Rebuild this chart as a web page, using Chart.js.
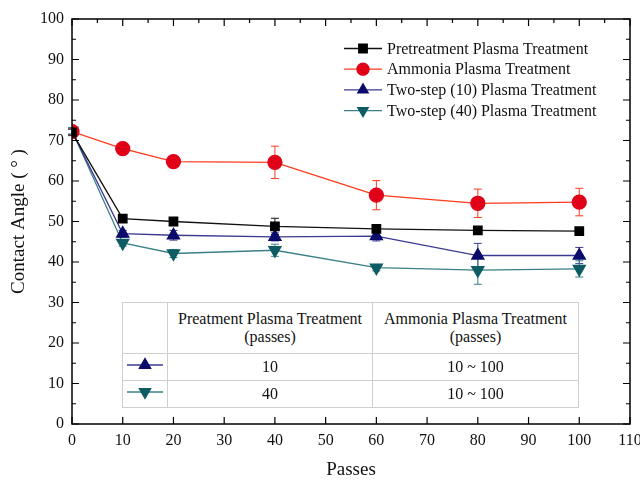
<!DOCTYPE html>
<html lang="en">
<head>
<meta charset="UTF-8">
<script src="https://cdn.jsdelivr.net/npm/chart.js"></script>
<title>Contact Angle vs Passes</title>
<style>
  html, body { margin: 0; padding: 0; background: #fff; }
  #wrap { position: relative; width: 640px; height: 481px; }
  #legendTable {
    position: absolute; left: 122px; top: 302px; border-collapse: collapse;
    font-family: "Liberation Serif", serif; font-size: 16px; color: #111;
    background: #fff;
  }
  #legendTable td { border: 1px solid #cfcfcf; text-align: center; padding: 0; line-height: 18px; }
</style>
</head>
<body>
<div id="wrap">
  <canvas id="angleChart" width="640" height="481"></canvas>
  <table id="legendTable">
    <tr style="height:51px"><td style="width:44px"></td><td style="width:204px">Preatment Plasma Treatment<br>(passes)</td><td style="width:205px">Ammonia Plasma Treatment<br>(passes)</td></tr>
    <tr style="height:27px"><td><canvas id="mk1" width="40" height="16"></canvas></td><td>10</td><td>10 ~ 100</td></tr>
    <tr style="height:27px"><td><canvas id="mk2" width="40" height="16"></canvas></td><td>40</td><td>10 ~ 100</td></tr>
  </table>
</div>
<script>
// data
const passes = [0, 10, 20, 40, 60, 80, 100];
const pretreatment = [72.0, 50.7, 50.0, 48.8, 48.2, 47.8, 47.6];
const ammonia = [72.2, 68.0, 64.8, 64.6, 56.5, 54.5, 54.8];
const twoStep10 = [72.3, 47.0, 46.6, 46.2, 46.4, 41.6, 41.6];
const twoStep40 = [72.4, 44.7, 42.1, 42.9, 38.6, 38.0, 38.3];
const errPre = [0.8, 0.6, 0.6, 2.0, 0.8, 0.4, 0.4];
const errAmm = [0.8, 1.2, 0.8, 4.0, 3.6, 3.5, 3.4];
const errTwo10 = [0.8, 0.8, 1.2, 1.0, 1.2, 3.0, 2.0];
const errTwo40 = [0.8, 0.8, 1.0, 1.5, 0.8, 3.5, 2.0];
const seriesNames = ['Pretreatment Plasma Treatment', 'Ammonia Plasma Treatment',
                     'Two-step (10) Plasma Treatment', 'Two-step (40) Plasma Treatment'];

const serif = '"Liberation Serif", serif';

function mkSet(label, ys, errs, line, fill, style, radius, rot) {
  return {
    label: label,
    data: passes.map((x, i) => ({ x: x, y: ys[i] })),
    errors: errs,
    borderColor: line,
    backgroundColor: fill,
    pointBackgroundColor: fill,
    pointBorderColor: fill,
    pointStyle: style,
    pointRadius: radius,
    pointRotation: rot,
    borderWidth: 1.3,
    tension: 0
  };
}

const datasets = [
  mkSet(seriesNames[0], pretreatment, errPre, '#111111', '#000000', 'rect', 6, 0),
  mkSet(seriesNames[1], ammonia, errAmm, '#ff3a1c', '#e00018', 'circle', 7, 0),
  mkSet(seriesNames[2], twoStep10, errTwo10, '#3a3a90', '#0b0b6b', 'triangle', 7, 0),
  mkSet(seriesNames[3], twoStep40, errTwo40, '#3a8088', '#0d5c64', 'triangle', 7, 180)
];

// error bars, drawn through the scales
const errorBars = {
  id: 'errorBars',
  beforeDatasetsDraw(chart) {
    const { ctx, scales: { x, y } } = chart;
    chart.data.datasets.forEach(ds => {
      ctx.save();
      ctx.strokeStyle = ds.borderColor;
      ctx.lineWidth = 1;
      ds.data.forEach((p, i) => {
        const e = ds.errors[i];
        const px = x.getPixelForValue(p.x);
        const top = y.getPixelForValue(p.y + e);
        const bot = y.getPixelForValue(p.y - e);
        ctx.beginPath();
        ctx.moveTo(px, top); ctx.lineTo(px, bot);
        ctx.moveTo(px - 4, top); ctx.lineTo(px + 4, top);
        ctx.moveTo(px - 4, bot); ctx.lineTo(px + 4, bot);
        ctx.stroke();
      });
      ctx.restore();
    });
  }
};

// box frame with inward ticks on all four sides, plus the legend
const frame = {
  id: 'frame',
  afterDraw(chart) {
    const { ctx, chartArea: a, scales: { x, y } } = chart;
    ctx.save();
    ctx.strokeStyle = '#000';
    ctx.lineWidth = 1.5;
    ctx.strokeRect(a.left, a.top, a.right - a.left, a.bottom - a.top);
    ctx.lineWidth = 1.2;
    ctx.beginPath();
    for (let v = 0; v <= 110; v += 5) {
      const px = x.getPixelForValue(v);
      const len = v % 10 === 0 ? 7 : 4;
      ctx.moveTo(px, a.bottom); ctx.lineTo(px, a.bottom - (v % 10 === 0 ? 7 : 0));
      ctx.moveTo(px, a.top); ctx.lineTo(px, a.top + len);
    }
    for (let v = 0; v <= 100; v += 5) {
      const py = y.getPixelForValue(v);
      const len = v % 10 === 0 ? 7 : 4;
      ctx.moveTo(a.left, py); ctx.lineTo(a.left + len, py);
      ctx.moveTo(a.right, py); ctx.lineTo(a.right - len, py);
    }
    ctx.stroke();

    ctx.font = '16px ' + serif;
    ctx.textBaseline = 'middle';
    chart.data.datasets.forEach((ds, i) => {
      const ly = 48.5 + i * 20.7;
      ctx.strokeStyle = ds.borderColor;
      ctx.lineWidth = 1.3;
      ctx.beginPath(); ctx.moveTo(344, ly); ctx.lineTo(382, ly); ctx.stroke();
      ctx.fillStyle = ds.pointBackgroundColor;
      ctx.strokeStyle = ds.pointBorderColor;
      Chart.helpers.drawPoint(ctx, { pointStyle: ds.pointStyle, radius: 6, rotation: ds.pointRotation, borderWidth: 1 }, 363, ly);
      ctx.fillStyle = '#111';
      ctx.fillText(ds.label, 387, ly + 1);
    });
    ctx.restore();
  }
};

new Chart(document.getElementById('angleChart'), {
  type: 'line',
  data: { datasets: datasets },
  plugins: [errorBars, frame],
  options: {
    responsive: false,
    animation: false,
    layout: { padding: { left: 8, top: 19, right: 10, bottom: 0 } },
    plugins: { legend: { display: false }, tooltip: { enabled: false } },
    scales: {
      x: {
        type: 'linear', min: 0, max: 110,
        grid: { display: false, drawTicks: false },
        border: { display: false },
        ticks: { stepSize: 10, padding: 7, color: '#111', font: { family: serif, size: 16 } },
        title: { display: true, text: 'Passes', color: '#111', font: { family: serif, size: 19 }, padding: { top: 10, bottom: 0 } },
        afterFit(s) { s.height = 57; s.paddingRight = 0; s.paddingLeft = 0; }
      },
      y: {
        min: 0, max: 100,
        grid: { display: false, drawTicks: false },
        border: { display: false },
        ticks: { stepSize: 10, padding: 8, color: '#111', font: { family: serif, size: 16 } },
        title: { display: true, text: 'Contact Angle ( ° )', color: '#111', font: { family: serif, size: 19 }, padding: { top: 0, bottom: 0 } },
        afterFit(s) { s.width = 64; }
      }
    }
  }
});

// small markers for the table rows
function tableMarker(id, ds) {
  const c = document.getElementById(id).getContext('2d');
  c.strokeStyle = ds.borderColor; c.lineWidth = 1.3;
  c.beginPath(); c.moveTo(2, 8); c.lineTo(38, 8); c.stroke();
  c.fillStyle = ds.pointBackgroundColor; c.strokeStyle = ds.pointBorderColor;
  Chart.helpers.drawPoint(c, { pointStyle: 'triangle', radius: 6.5, rotation: ds.pointRotation, borderWidth: 1 }, 20, 8);
}
tableMarker('mk1', datasets[2]);
tableMarker('mk2', datasets[3]);
</script>
</body>
</html>
